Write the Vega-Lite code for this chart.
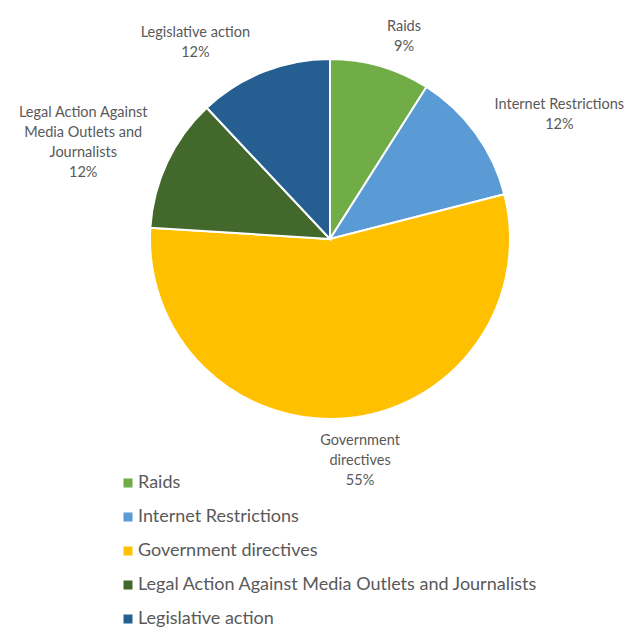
{
  "$schema": "https://vega.github.io/schema/vega-lite/v6.json",
  "autosize": {"type": "none"},
  "width": 604,
  "height": 478,
  "padding": {"left": 28, "top": 0, "right": 0, "bottom": 154},
  "background": "white",
  "config": {"view": {"stroke": null}, "font": "Lato"},
  "data": {
    "values": [
      {"category": "Raids", "wrapped": "Raids", "share": 9, "rank": 1},
      {"category": "Internet Restrictions", "wrapped": "Internet Restrictions", "share": 12, "rank": 2},
      {"category": "Government directives", "wrapped": "Government\ndirectives", "share": 55, "rank": 3},
      {"category": "Legal Action Against Media Outlets and Journalists", "wrapped": "Legal Action Against\nMedia Outlets and\nJournalists", "share": 12, "rank": 4},
      {"category": "Legislative action", "wrapped": "Legislative action", "share": 12, "rank": 5}
    ]
  },
  "transform": [
    {"stack": "share", "groupby": [], "sort": [{"field": "rank", "order": "ascending"}], "as": ["t0", "t1"]},
    {"calculate": "(datum.t0 + datum.t1) / 2", "as": "mid"},
    {"calculate": "datum.wrapped + '\\n' + datum.share + '%'", "as": "label"}
  ],
  "encoding": {
    "color": {
      "field": "category",
      "type": "nominal",
      "scale": {
        "domain": ["Raids", "Internet Restrictions", "Government directives", "Legal Action Against Media Outlets and Journalists", "Legislative action"],
        "range": ["#70AD47", "#5B9BD5", "#FFC000", "#43682B", "#255E91"]
      },
      "legend": {
        "orient": "none",
        "legendX": 91,
        "legendY": 474,
        "title": null,
        "direction": "vertical",
        "padding": 0,
        "symbolType": "square",
        "symbolSize": 81,
        "symbolStrokeWidth": 0,
        "labelFont": "Lato",
        "labelFontSize": 18,
        "labelColor": "#595959",
        "labelOffset": 1,
        "labelLimit": 600,
        "rowPadding": 16
      }
    }
  },
  "layer": [
    {
      "mark": {"type": "arc", "radius": 180, "stroke": "white", "strokeWidth": 2},
      "encoding": {
        "theta": {"field": "t0", "type": "quantitative", "scale": {"domain": [0, 100]}},
        "theta2": {"field": "t1"}
      }
    },
    {
      "transform": [{"filter": "datum.category === 'Raids'"}],
      "mark": {"type": "text", "radius": 215, "dx": 14, "dy": -6, "lineBreak": "\n", "fontSize": 14.5, "lineHeight": 20, "baseline": "middle"},
      "encoding": {
        "theta": {"field": "mid", "type": "quantitative"},
        "text": {"field": "label"},
        "color": {"value": "#595959"}
      }
    },
    {
      "transform": [{"filter": "datum.category === 'Internet Restrictions'"}],
      "mark": {"type": "text", "radius": 260, "dx": 19, "dy": 19, "lineBreak": "\n", "fontSize": 14.5, "lineHeight": 20, "baseline": "middle"},
      "encoding": {
        "theta": {"field": "mid", "type": "quantitative"},
        "text": {"field": "label"},
        "color": {"value": "#595959"}
      }
    },
    {
      "transform": [{"filter": "datum.category === 'Government directives'"}],
      "mark": {"type": "text", "radius": 224, "dx": 9, "dy": -21, "lineBreak": "\n", "fontSize": 14.5, "lineHeight": 20, "baseline": "middle"},
      "encoding": {
        "theta": {"field": "mid", "type": "quantitative"},
        "text": {"field": "label"},
        "color": {"value": "#595959"}
      }
    },
    {
      "transform": [{"filter": "datum.category === 'Legal Action Against Media Outlets and Journalists'"}],
      "mark": {"type": "text", "radius": 265, "dx": -7, "dy": -13, "lineBreak": "\n", "fontSize": 14.5, "lineHeight": 20, "baseline": "middle"},
      "encoding": {
        "theta": {"field": "mid", "type": "quantitative"},
        "text": {"field": "label"},
        "color": {"value": "#595959"}
      }
    },
    {
      "transform": [{"filter": "datum.category === 'Legislative action'"}],
      "mark": {"type": "text", "radius": 238, "dx": -47, "dy": 15, "lineBreak": "\n", "fontSize": 14.5, "lineHeight": 20, "baseline": "middle"},
      "encoding": {
        "theta": {"field": "mid", "type": "quantitative"},
        "text": {"field": "label"},
        "color": {"value": "#595959"}
      }
    }
  ]
}
